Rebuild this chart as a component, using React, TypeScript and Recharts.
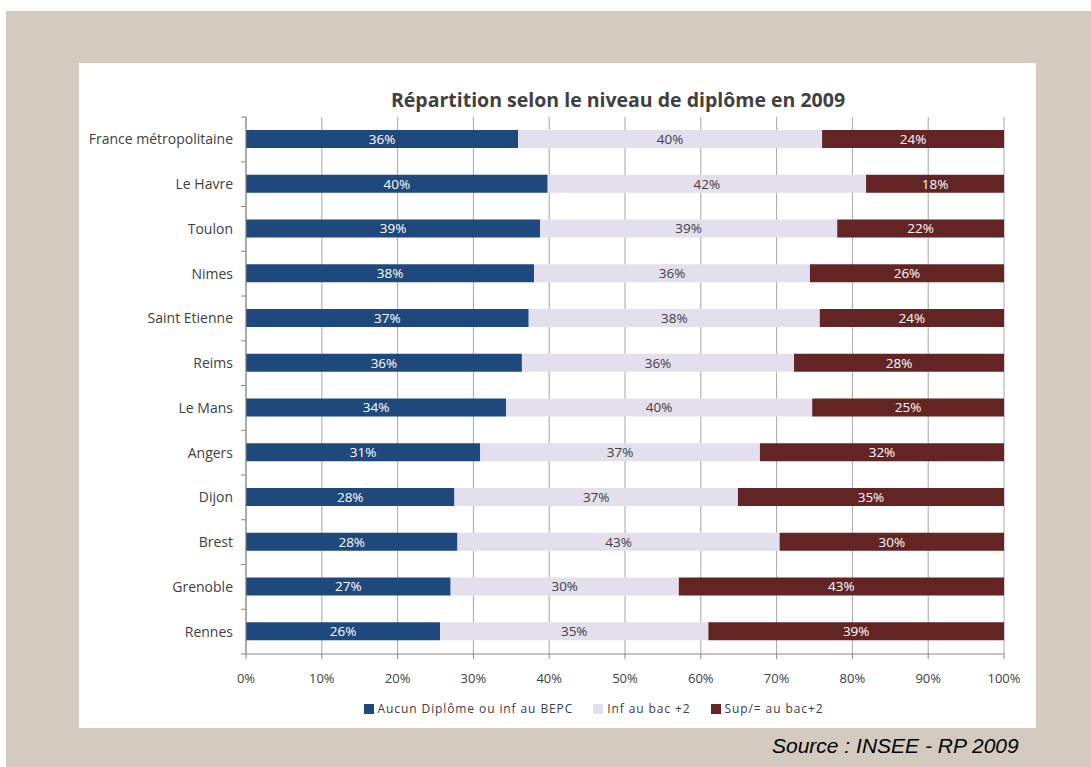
import React from 'react';
import { BarChart, Bar, XAxis, YAxis, CartesianGrid, Legend, LabelList } from 'recharts';

const cities = [
  'France métropolitaine',
  'Le Havre',
  'Toulon',
  'Nimes',
  'Saint Etienne',
  'Reims',
  'Le Mans',
  'Angers',
  'Dijon',
  'Brest',
  'Grenoble',
  'Rennes',
];
const aucunDiplome = [35.9, 39.8, 38.8, 38.0, 37.3, 36.4, 34.3, 30.9, 27.5, 27.9, 27.0, 25.6];
const infBac2 = [40.1, 42.0, 39.2, 36.4, 38.4, 35.9, 40.4, 36.9, 37.4, 42.5, 30.1, 35.4];
const supBac2 = [24.0, 18.2, 22.0, 25.6, 24.3, 27.7, 25.3, 32.2, 35.1, 29.6, 42.9, 39.0];
const xTicks = [0, 10, 20, 30, 40, 50, 60, 70, 80, 90, 100];

const seriesNames = ['Aucun Diplôme ou inf au BEPC', 'Inf au bac +2', 'Sup/= au bac+2'];
const COLORS = ['#1F497D', '#E4DFEC', '#632523'];

const data = cities.map((name, i) => ({
  name,
  aucun: aucunDiplome[i],
  inf: infBac2[i],
  sup: supBac2[i],
}));

const FONT = '"Open Sans", sans-serif';
const PLOT_H = 536;
const BAND = PLOT_H / cities.length;

const pct = (v: any) => `${Math.round(Number(v))}%`;

function CityTick(props: any) {
  const { x, y, payload, index } = props;
  const axisX = x + 13;
  return (
    <g>
      <line x1={axisX - 5} x2={axisX} y1={y - BAND / 2} y2={y - BAND / 2} stroke="#868686" />
      {index === cities.length - 1 && (
        <line x1={axisX - 5} x2={axisX} y1={y + BAND / 2} y2={y + BAND / 2} stroke="#868686" />
      )}
      <text x={x} y={y} dy="0.35em" textAnchor="end" fill="#404040" fontSize={14} fontFamily={FONT}>
        {payload.value}
      </text>
    </g>
  );
}

function LegendContent() {
  return (
    <div style={{ display: 'flex', justifyContent: 'center', gap: 20, fontFamily: FONT, fontSize: 12, color: '#404040', letterSpacing: 0.9, paddingLeft: 104 }}>
      {seriesNames.map((n, i) => (
        <span key={n} style={{ display: 'flex', alignItems: 'center' }}>
          <span style={{ width: 10, height: 10, background: COLORS[i], marginRight: 4, display: 'inline-block' }} />
          {n}
        </span>
      ))}
    </div>
  );
}

export default function App() {
  return (
    <div style={{ position: 'absolute', left: 6, top: 11, width: 1085, height: 756, background: '#D3CBBF' }}>
      <div style={{ position: 'absolute', left: 73, top: 52, width: 957, height: 665, background: '#FFFFFF' }}>
        <div
          style={{
            position: 'absolute',
            top: 23,
            left: 160,
            width: 758,
            textAlign: 'center',
            fontFamily: FONT,
            fontWeight: 700,
            fontSize: 19.5,
            color: '#404040',
          }}
        >
          Répartition selon le niveau de diplôme en 2009
        </div>
        <BarChart
          width={957}
          height={665}
          data={data}
          layout="vertical"
          barSize={18}
          margin={{ top: 54, right: 32, bottom: 11, left: 0 }}
        >
          <CartesianGrid horizontal={false} stroke="#A6A6A6" />
          <XAxis
            type="number"
            domain={[0, 100]}
            ticks={xTicks}
            tickFormatter={(v) => `${v}%`}
            height={46}
            tickSize={5}
            tickMargin={15}
            stroke="#868686"
            tick={{ fill: '#404040', fontSize: 13, fontFamily: FONT }}
            interval={0}
          />
          <YAxis
            type="category"
            dataKey="name"
            width={167}
            tickSize={5}
            tickMargin={8}
            tickLine={false}
            stroke="#868686"
            tick={<CityTick />}
            interval={0}
          />
          <Legend verticalAlign="bottom" content={<LegendContent />} />
          <Bar dataKey="aucun" name={seriesNames[0]} stackId="a" fill={COLORS[0]} isAnimationActive={false}>
            <LabelList dataKey="aucun" position="center" formatter={pct} fill="#FFFFFF" fontSize={13.5} fontFamily={FONT} />
          </Bar>
          <Bar dataKey="inf" name={seriesNames[1]} stackId="a" fill={COLORS[1]} isAnimationActive={false}>
            <LabelList dataKey="inf" position="center" formatter={pct} fill="#404040" fontSize={13.5} fontFamily={FONT} />
          </Bar>
          <Bar dataKey="sup" name={seriesNames[2]} stackId="a" fill={COLORS[2]} isAnimationActive={false}>
            <LabelList dataKey="sup" position="center" formatter={pct} fill="#FFFFFF" fontSize={13.5} fontFamily={FONT} />
          </Bar>
        </BarChart>
      </div>
      <div
        style={{
          position: 'absolute',
          left: 766,
          top: 723,
          fontFamily: '"Liberation Sans", sans-serif',
          fontStyle: 'italic',
          fontSize: 21,
          color: '#000000',
        }}
      >
        Source : INSEE - RP 2009
      </div>
    </div>
  );
}
